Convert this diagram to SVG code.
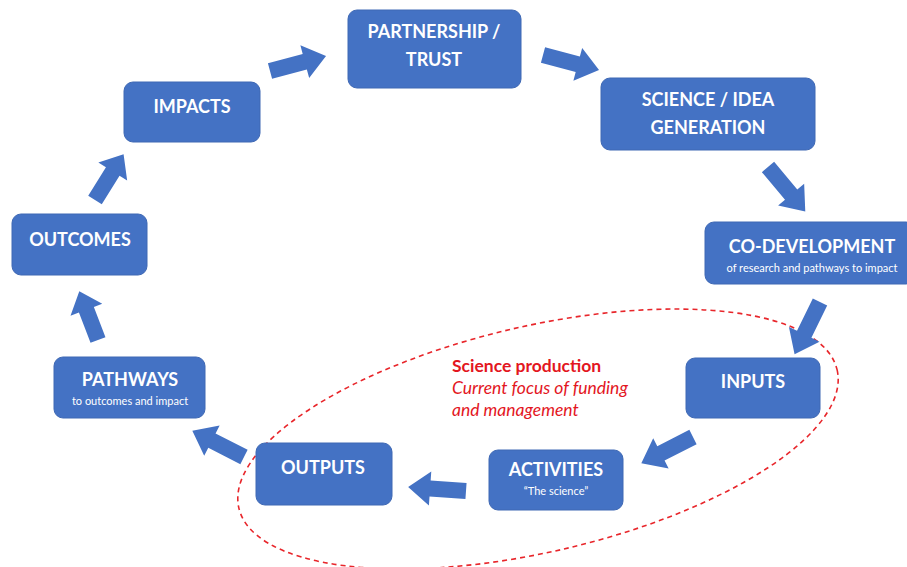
<svg xmlns="http://www.w3.org/2000/svg" xmlns:xlink="http://www.w3.org/1999/xlink" width="907" height="567" viewBox="0 0 907 567">
<style>
.box{fill:#4472C4;stroke:#3E68B4;stroke-width:1}
.t{font-family:Lato,"Open Sans","Liberation Sans",sans-serif;font-weight:bold;font-size:18px;fill:#fff;text-anchor:middle}
.s{font-family:Lato,"Open Sans","Liberation Sans",sans-serif;font-size:11px;fill:#fff;text-anchor:middle}
.r{font-family:Lato,"Open Sans","Liberation Sans",sans-serif;font-size:17.5px;fill:#E3161E}
.arr{fill:#4472C4}
</style>
<defs>
<path id="arr" d="M0,-8 H36 V-17 L58,0 L36,17 V8 H0 Z"/>
</defs>
<rect width="907" height="567" fill="#fff"/>
<g id="focus">
<ellipse cx="538" cy="439" rx="307" ry="113" transform="rotate(-13 538 439)" fill="none" stroke="#E8262B" stroke-width="1.6" stroke-dasharray="5,4"/>
<text class="r" x="452" y="372" font-weight="bold">Science production</text>
<text class="r" x="452" y="394" font-style="italic">Current focus of funding</text>
<text class="r" x="452" y="416" font-style="italic">and management</text>
</g>
<g id="connectors" class="arr">
<use xlink:href="#arr" transform="translate(270,71) rotate(-15)"/>
<use xlink:href="#arr" transform="translate(543,55) rotate(15)"/>
<use xlink:href="#arr" transform="translate(768,167) rotate(50)"/>
<use xlink:href="#arr" transform="translate(820,302) rotate(116)"/>
<use xlink:href="#arr" transform="translate(693,437) rotate(153)"/>
<use xlink:href="#arr" transform="translate(466,491) rotate(184)"/>
<use xlink:href="#arr" transform="translate(244,457) rotate(207)"/>
<use xlink:href="#arr" transform="translate(98,340) rotate(249) scale(0.9,1)"/>
<use xlink:href="#arr" transform="translate(95,200) rotate(-58) scale(0.93,1)"/>
</g>
<g id="partnership">
<rect class="box" x="348" y="10" width="173" height="78" rx="9"/>
<text class="t" x="434" y="38">PARTNERSHIP /</text>
<text class="t" x="434" y="66">TRUST</text>
</g>
<g id="science">
<rect class="box" x="601" y="78" width="214" height="72" rx="9"/>
<text class="t" x="708" y="106">SCIENCE / IDEA</text>
<text class="t" x="708" y="134">GENERATION</text>
</g>
<g id="codevelopment">
<rect class="box" x="705" y="222" width="210" height="62" rx="9"/>
<text class="t" x="812" y="253">CO-DEVELOPMENT</text>
<text class="s" x="812" y="272">of research and pathways to impact</text>
</g>
<g id="inputs">
<rect class="box" x="686" y="358" width="134" height="60" rx="9"/>
<text class="t" x="753" y="388">INPUTS</text>
</g>
<g id="activities">
<rect class="box" x="489" y="450" width="134" height="60" rx="9"/>
<text class="t" x="556" y="476">ACTIVITIES</text>
<text class="s" x="556" y="495" font-size="10">“The science”</text>
</g>
<g id="outputs">
<rect class="box" x="256" y="443" width="136" height="62" rx="9"/>
<text class="t" x="323" y="474">OUTPUTS</text>
</g>
<g id="pathways">
<rect class="box" x="54" y="357" width="151" height="61" rx="9"/>
<text class="t" x="130" y="386">PATHWAYS</text>
<text class="s" x="130" y="405">to outcomes and impact</text>
</g>
<g id="outcomes">
<rect class="box" x="12" y="214" width="135" height="61" rx="9"/>
<text class="t" x="80" y="246">OUTCOMES</text>
</g>
<g id="impacts">
<rect class="box" x="124" y="82" width="136" height="60" rx="9"/>
<text class="t" x="192" y="113">IMPACTS</text>
</g>
</svg>
